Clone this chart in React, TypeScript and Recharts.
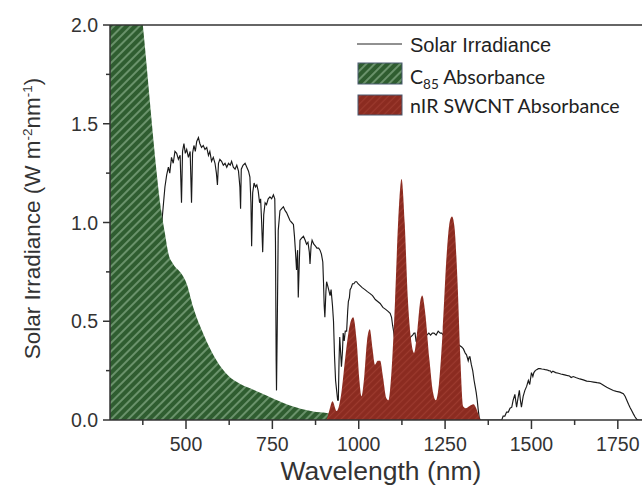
import React from 'react';
import { ComposedChart, Line, Area, XAxis, YAxis, ReferenceLine, Legend, Label } from 'recharts';

// Solar irradiance (AM1.5-like)
const solarWavelength = [
  425, 430, 435, 439, 444, 449, 453, 458, 463, 468, 473, 478, 483, 487, 490, 494, 498, 502, 507, 512,
  516, 519, 523, 527, 531, 536, 540, 545, 550, 555, 560, 565, 569, 574, 579, 584, 588, 591, 594, 598,
  603, 608, 613, 618, 623, 628, 632, 637, 642, 647, 652, 656, 658, 660, 665, 671, 676, 681, 685, 688,
  690, 693, 697, 701, 705, 709, 713, 716, 719, 722, 725, 729, 733, 738, 743, 748, 753, 757, 759, 761,
  762, 764, 767, 772, 777, 782, 787, 791, 796, 801, 806, 811, 814, 817, 820, 823, 825, 828, 830, 834,
  840, 845, 849, 853, 857, 859, 862, 865, 870, 875, 879, 884, 888, 892, 896, 898, 900, 902, 905, 907,
  910, 913, 917, 920, 924, 927, 930, 933, 936, 939, 941, 943, 945, 947, 950, 953, 955, 958, 961, 965,
  968, 970, 973, 975, 978, 982, 986, 990, 994, 998, 1004, 1010, 1018, 1025, 1033, 1040, 1048, 1055, 1062, 1070,
  1078, 1085, 1091, 1095, 1098, 1100, 1105, 1112, 1120, 1128, 1135, 1142, 1150, 1156, 1160, 1163, 1166, 1168, 1171, 1175,
  1180, 1186, 1192, 1197, 1203, 1208, 1213, 1218, 1224, 1230, 1236, 1240, 1250, 1260, 1270, 1280, 1290, 1298, 1303, 1308,
  1312, 1317, 1320, 1322, 1326, 1330, 1334, 1337, 1340, 1343, 1346, 1349, 1352, 1410, 1414, 1418, 1423, 1428, 1433, 1438,
  1443, 1447, 1452, 1457, 1461, 1465, 1468, 1471, 1476, 1481, 1486, 1491, 1495, 1500, 1504, 1507, 1511, 1515, 1520, 1525,
  1530, 1535, 1540, 1544, 1550, 1555, 1558, 1562, 1570, 1578, 1585, 1593, 1602, 1610, 1615, 1621, 1630, 1640, 1650, 1660,
  1670, 1680, 1690, 1698, 1705, 1712, 1718, 1725, 1737, 1746, 1756, 1766, 1771, 1776, 1781, 1785, 1790, 1795, 1800, 1805,
  1810, 1820,
];
const solarIrradiance = [
  0.93, 1.0, 1.1, 1.18, 1.24, 1.28, 1.25, 1.33, 1.3, 1.36, 1.35, 1.32, 1.34, 1.1, 1.36, 1.4, 1.35, 1.37, 1.33, 1.36,
  1.1, 1.35, 1.39, 1.36, 1.41, 1.43, 1.4, 1.38, 1.39, 1.37, 1.38, 1.34, 1.36, 1.31, 1.33, 1.3, 1.25, 1.19, 1.3, 1.32,
  1.31, 1.29, 1.3, 1.28, 1.3, 1.29, 1.31, 1.28, 1.27, 1.29, 1.26, 1.18, 1.07, 1.27, 1.29, 1.3, 1.28, 1.26, 1.23, 1.1,
  0.88, 1.15, 1.2, 1.18, 1.19, 1.16, 1.1, 1.12, 1.0, 0.85, 1.04, 1.1, 1.09, 1.12, 1.13, 1.12, 1.14, 1.12, 0.9, 0.3,
  0.15, 0.45, 0.96, 1.06, 1.07, 1.08, 1.06, 1.05, 1.03, 1.01, 1.0, 0.99, 0.93, 0.85, 0.76, 0.86, 0.62, 0.8, 0.91, 0.92,
  0.93, 0.91, 0.89, 0.9, 0.85, 0.79, 0.88, 0.91, 0.89, 0.88, 0.87, 0.87, 0.86, 0.84, 0.8, 0.7, 0.58, 0.52, 0.65, 0.7,
  0.68, 0.66, 0.63, 0.66, 0.58, 0.5, 0.32, 0.2, 0.15, 0.1, 0.1, 0.3, 0.42, 0.36, 0.27, 0.35, 0.44, 0.4, 0.45, 0.45,
  0.55, 0.6, 0.62, 0.66, 0.67, 0.69, 0.69, 0.7, 0.7, 0.69, 0.68, 0.67, 0.66, 0.65, 0.64, 0.63, 0.61, 0.6, 0.59, 0.57,
  0.56, 0.55, 0.54, 0.52, 0.48, 0.46, 0.4, 0.3, 0.25, 0.3, 0.35, 0.38, 0.42, 0.43, 0.44, 0.44, 0.4, 0.39, 0.44, 0.43,
  0.42, 0.43, 0.42, 0.43, 0.44, 0.43, 0.44, 0.44, 0.43, 0.45, 0.44, 0.44, 0.42, 0.42, 0.41, 0.4, 0.38, 0.37, 0.36, 0.34,
  0.33, 0.3, 0.32, 0.32, 0.28, 0.25, 0.2, 0.17, 0.14, 0.1, 0.05, 0.01, 0.0, 0.0, 0.0, 0.02, 0.02, 0.04, 0.04, 0.06,
  0.065, 0.1, 0.13, 0.065, 0.11, 0.15, 0.1, 0.065, 0.12, 0.15, 0.17, 0.2, 0.18, 0.24, 0.22, 0.24, 0.25, 0.255, 0.26, 0.26,
  0.258, 0.257, 0.255, 0.254, 0.25, 0.248, 0.24, 0.247, 0.24, 0.237, 0.233, 0.23, 0.226, 0.223, 0.215, 0.22, 0.214, 0.208, 0.203, 0.197,
  0.195, 0.192, 0.189, 0.187, 0.18, 0.172, 0.166, 0.16, 0.149, 0.145, 0.141, 0.133, 0.12, 0.1, 0.08, 0.065, 0.048, 0.031, 0.015, 0.003,
  0.0, 0.0,
];

// C85 absorbance (green)
const c85Wavelength = [280, 375, 430, 439, 449, 463, 487, 502, 521, 550, 589, 622, 656, 700, 733, 801, 868, 907, 940, 960];
const c85Absorbance = [3.66, 2.0, 1.04, 0.944, 0.843, 0.79, 0.74, 0.69, 0.57, 0.437, 0.3, 0.225, 0.183, 0.15, 0.124, 0.073, 0.043, 0.035, 0.02, 0.0];

// nIR SWCNT absorbance (red)
const swcntWavelength = [
  900, 907, 915, 924, 936, 950, 962, 974, 984, 994, 1002, 1008, 1016, 1024, 1032, 1040, 1047, 1055, 1062, 1070,
  1080, 1086, 1095, 1105, 1114, 1124, 1133, 1142, 1152, 1160, 1170, 1178, 1184, 1192, 1205, 1215, 1223, 1232, 1243, 1255,
  1264, 1270, 1277, 1286, 1294, 1302, 1310, 1320, 1332, 1340, 1348, 1352,
];
const swcntAbsorbance = [
  0.0, 0.005, 0.05, 0.095, 0.045, 0.14, 0.33, 0.48, 0.52, 0.4, 0.2, 0.12, 0.22, 0.4, 0.46, 0.36, 0.28, 0.3, 0.3, 0.22,
  0.11, 0.1, 0.25, 0.6, 1.0, 1.22, 1.0, 0.62, 0.4, 0.34, 0.46, 0.6, 0.63, 0.55, 0.3, 0.14, 0.1, 0.18, 0.45, 0.85,
  1.01, 1.03, 0.98, 0.7, 0.32, 0.07, 0.06, 0.07, 0.08, 0.06, 0.02, 0.0,
];

const xTicks = [375, 500, 625, 750, 875, 1000, 1125, 1250, 1375, 1500, 1625, 1750];
const yTicks = [0, 0.25, 0.5, 0.75, 1.0, 1.25, 1.5, 1.75, 2.0];

const solarData = solarWavelength.map((x, i) => ({ x, y: solarIrradiance[i] }));
const c85Data = c85Wavelength.map((x, i) => ({ x, y: c85Absorbance[i] }));
const swcntData = swcntWavelength.map((x, i) => ({ x, y: swcntAbsorbance[i] }));

const AXIS = '#333';
const ARIAL = '"Liberation Sans", Arial, sans-serif';
const CAL = 'Lato, "Open Sans", sans-serif';

const XTick = (props: any) => {
  const { x, y, payload } = props;
  const v = payload.value;
  const major = v % 250 === 0;
  return (
    <g>
      <line x1={x} x2={x} y1={y} y2={y + (major ? 9 : 5)} stroke={AXIS} strokeWidth={1.5} />
      {major && (
        <text x={x} y={y + 30.5} textAnchor="middle" fontSize={19.5} fill="#333" fontFamily={ARIAL}>
          {v}
        </text>
      )}
    </g>
  );
};

const YTick = (props: any) => {
  const { x, y, payload } = props;
  const v = payload.value;
  const major = Math.abs(v * 2 - Math.round(v * 2)) < 1e-6;
  return (
    <g>
      <line x1={x} x2={x - (major ? 7 : 4)} y1={y} y2={y} stroke={AXIS} strokeWidth={1.5} />
      {major && (
        <text x={x - 12} y={y + 7} textAnchor="end" fontSize={19.5} fill="#333" fontFamily={ARIAL}>
          {v.toFixed(1)}
        </text>
      )}
    </g>
  );
};

const YTitle = (props: any) => {
  const vb = props.viewBox;
  const cx = vb.x;
  const cy = vb.y + vb.height / 2 - 4;
  return (
    <text x={cx} y={cy} transform={`rotate(-90 ${cx} ${cy})`} textAnchor="middle" fontSize={22.5} fill="#333" fontFamily={ARIAL}>
      Solar Irradiance (W m
      <tspan dy={-8} fontSize={13.5}>-2</tspan>
      <tspan dy={8}>nm</tspan>
      <tspan dy={-8} fontSize={13.5}>-1</tspan>
      <tspan dy={8}>)</tspan>
    </text>
  );
};

const XTitle = (props: any) => {
  const vb = props.viewBox;
  return (
    <text x={vb.x + vb.width / 2 + 5} y={vb.y + 60} textAnchor="middle" fontSize={26.5} fill="#333" fontFamily={ARIAL}>
      Wavelength (nm)
    </text>
  );
};

const LegendBox = () => (
  <svg width={292} height={100} style={{ display: 'block' }}>
    <line x1={7} x2={52} y1={19} y2={19} stroke="#222" strokeWidth={1} />
    <text x={60} y={26.5} fontSize={20} fill="#222" fontFamily={ARIAL}>Solar Irradiance</text>
    <rect x={8} y={38} width={44} height={21} fill="url(#greenHatch)" stroke="#4a5a70" strokeWidth={1} />
    <text x={60} y={58.5} fontSize={19.6} fill="#222" fontFamily={CAL}>
      C<tspan fontSize={13.5} dy={5}>85</tspan>
      <tspan dy={-5}> Absorbance</tspan>
    </text>
    <rect x={8} y={70} width={44} height={20} fill="url(#redHatch)" stroke="#4a5a70" strokeWidth={1} />
    <text x={60} y={88} fontSize={19.6} fill="#222" fontFamily={CAL}>nIR SWCNT Absorbance</text>
  </svg>
);

export default function App() {
  return (
    <div style={{ position: 'absolute', left: 0, top: 0, width: 642, height: 495, overflow: 'hidden', background: '#fff' }}>
      <ComposedChart width={642} height={495} margin={{ top: 25, right: 0, bottom: 15, left: 40 }}>
        <defs>
          <pattern id="greenHatch" patternUnits="userSpaceOnUse" width={6} height={6} patternTransform="rotate(45)">
            <rect width={6} height={6} fill="#2f5d30" />
            <line x1={3} y1={0} x2={3} y2={6} stroke="#7ea47e" strokeWidth={1.5} />
          </pattern>
          <pattern id="redHatch" patternUnits="userSpaceOnUse" width={5} height={5} patternTransform="rotate(45)">
            <rect width={5} height={5} fill="#8b2b20" />
            <line x1={2.5} y1={0} x2={2.5} y2={5} stroke="#9c3a2e" strokeWidth={1.2} />
          </pattern>
        </defs>
        <XAxis
          type="number"
          dataKey="x"
          domain={[280, 1820]}
          ticks={xTicks}
          interval={0}
          height={60}
          tickSize={0}
          tickMargin={0}
          tickLine={false}
          tick={<XTick />}
          axisLine={{ stroke: AXIS, strokeWidth: 1.5 }}
          allowDataOverflow
        >
          <Label content={<XTitle />} />
        </XAxis>
        <YAxis
          type="number"
          domain={[0, 2]}
          ticks={yTicks}
          interval={0}
          width={70}
          tickSize={0}
          tickMargin={0}
          tickLine={false}
          tick={<YTick />}
          axisLine={{ stroke: AXIS, strokeWidth: 1.5 }}
          allowDataOverflow
        >
          <Label content={<YTitle />} />
        </YAxis>
        <Line
          data={solarData}
          dataKey="y"
          type="linear"
          stroke="#1a1a1a"
          strokeWidth={1.15}
          dot={false}
          activeDot={false}
          isAnimationActive={false}
          zIndex={50}
        />
        <Area
          data={c85Data}
          dataKey="y"
          type="monotone"
          stroke="none"
          fill="url(#greenHatch)"
          fillOpacity={1}
          baseValue={0}
          isAnimationActive={false}
          zIndex={100}
        />
        <Area
          data={swcntData}
          dataKey="y"
          type="monotone"
          stroke="none"
          fill="url(#redHatch)"
          fillOpacity={1}
          baseValue={0}
          isAnimationActive={false}
          zIndex={101}
        />
        <ReferenceLine y={2} stroke={AXIS} strokeWidth={1.5} />
        <Legend
          layout="horizontal"
          verticalAlign="middle"
          align="center"
          wrapperStyle={{ left: 350, top: 25, width: 292, height: 100 }}
          content={<LegendBox />}
        />
      </ComposedChart>
    </div>
  );
}
